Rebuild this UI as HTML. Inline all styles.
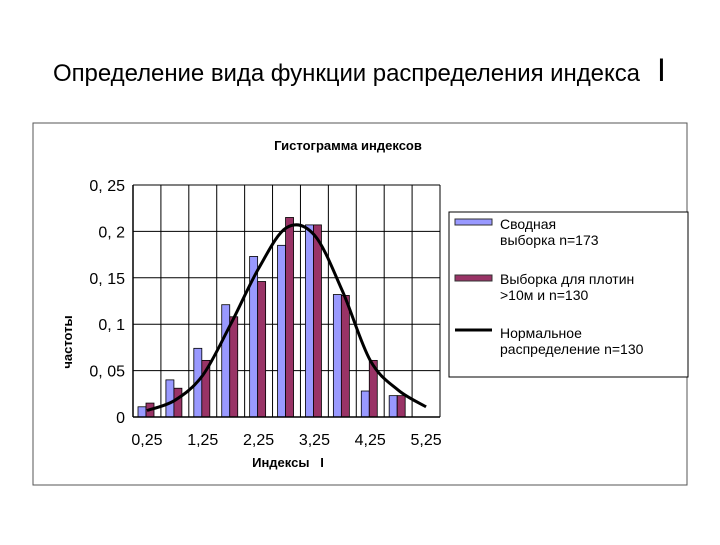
<!DOCTYPE html>
<html><head><meta charset="utf-8"><style>
body{margin:0;background:#fff;width:720px;height:540px;overflow:hidden;font-family:"Liberation Sans",sans-serif}
svg text{font-family:"Liberation Sans","DejaVu Sans",sans-serif}
</style></head><body>
<svg width="720" height="540" viewBox="0 0 720 540">
<text x="53" y="81" font-size="24" textLength="587">Определение вида функции распределения индекса</text>
<text x="657" y="81" font-size="32" font-weight="100">I</text>
<rect x="33" y="123" width="654" height="362" fill="#fff" stroke="#555" stroke-width="1"/>
<text x="348" y="150" font-size="13" font-weight="bold" text-anchor="middle">Гистограмма индексов</text>
<g id="grid"></g>
<g id="bars"></g>
<g id="axes"></g>
<path id="curve" fill="none" stroke="#000" stroke-width="3"/>
<text transform="translate(72,342) rotate(-90)" font-size="13" font-weight="bold" text-anchor="middle">частоты</text>
<text x="288" y="467" font-size="13" font-weight="bold" text-anchor="middle">Индексы &#160; I</text>
<g>
<rect x="449" y="212" width="239" height="165" fill="#fff" stroke="#000"/>
<rect x="455" y="219" width="37" height="6" fill="#9999ff" stroke="#333"/>
<text x="500" y="229" font-size="14"><tspan>Сводная</tspan><tspan x="500" dy="16">выборка n=173</tspan></text>
<rect x="455" y="275" width="37" height="6" fill="#993366" stroke="#333"/>
<text x="500" y="284" font-size="14"><tspan>Выборка для плотин</tspan><tspan x="500" dy="16">&gt;10м и n=130</tspan></text>
<line x1="455" y1="330" x2="492" y2="330" stroke="#000" stroke-width="3"/>
<text x="500" y="338" font-size="14"><tspan>Нормальное</tspan><tspan x="500" dy="16">распределение n=130</tspan></text>
</g>
</svg>
<script>
const categories=["0,25","0,75","1,25","1,75","2,25","2,75","3,25","3,75","4,25","4,75","5,25"];
const combined=[0.011,0.040,0.074,0.121,0.173,0.185,0.207,0.132,0.028,0.023,null];
const dams=[0.015,0.031,0.061,0.108,0.146,0.215,0.207,0.131,0.061,0.023,null];
const normal=[0.007,0.018,0.045,0.100,0.160,0.204,0.196,0.136,0.061,0.029,0.011];
const yTicks=[0,0.05,0.1,0.15,0.2,0.25];
const yTickLabels=["0","0, 05","0, 1","0, 15","0, 2","0, 25"];
const xLabelIdx=[0,2,4,6,8,10];
const NS="http://www.w3.org/2000/svg";
const L=133,R=440,T=185,B=417,YMAX=0.25;
const cw=(R-L)/categories.length;
const y=v=>B-(v/YMAX)*(B-T);
const xc=i=>L+cw*(i+0.5);
function mk(tag,attrs,parent){const e=document.createElementNS(NS,tag);for(const k in attrs)e.setAttribute(k,attrs[k]);parent.appendChild(e);return e;}
const grid=document.getElementById('grid'),bars=document.getElementById('bars'),axes=document.getElementById('axes');
yTicks.forEach((t,i)=>{
 const ln=mk('line',{x1:L,x2:R,y1:y(t),y2:y(t),stroke:'#000','stroke-width':1},grid);
 
 
 const tx=mk('text',{x:125,y:y(t)+6,'font-size':16,'text-anchor':'end'},axes);
 tx.textContent=yTickLabels[i];
 
 
});
for(let i=0;i<=categories.length;i++){
 const x=L+cw*i;
 const ln=mk('line',{x1:x,x2:x,y1:T,y2:B,stroke:'#000','stroke-width':1},grid);
 
 
}
categories.forEach((c,i)=>{
 const x0=L+cw*i+5,bw=8;
 if(combined[i]!=null){const r=mk('rect',{x:x0,y:y(combined[i]),width:bw,height:B-y(combined[i]),fill:'#9999ff',stroke:'#000','stroke-width':0.8},bars);
  
  }
 if(dams[i]!=null){const r=mk('rect',{x:x0+bw,y:y(dams[i]),width:bw,height:B-y(dams[i]),fill:'#993366',stroke:'#000','stroke-width':0.8},bars);
  
  }
});
xLabelIdx.forEach(i=>{
 const tx=mk('text',{x:xc(i),y:445,'font-size':16,'text-anchor':'middle'},axes);
 tx.textContent=categories[i];
 
 
});
const ax=mk('line',{x1:L,x2:L,y1:T,y2:B,stroke:'#000','stroke-width':1.5},axes);


const ax2=mk('line',{x1:L,x2:R,y1:B,y2:B,stroke:'#000','stroke-width':1.5},axes);


const pts=normal.map((v,i)=>[xc(i),y(v)]);
let d='M'+pts[0][0]+','+pts[0][1];
for(let i=0;i<pts.length-1;i++){
 const p0=pts[Math.max(0,i-1)],p1=pts[i],p2=pts[i+1],p3=pts[Math.min(pts.length-1,i+2)];
 const c1=[p1[0]+(p2[0]-p0[0])/6,p1[1]+(p2[1]-p0[1])/6],c2=[p2[0]-(p3[0]-p1[0])/6,p2[1]-(p3[1]-p1[1])/6];
 d+=' C'+c1+' '+c2+' '+p2;
}
document.getElementById('curve').setAttribute('d',d);
</script>
</body></html>
